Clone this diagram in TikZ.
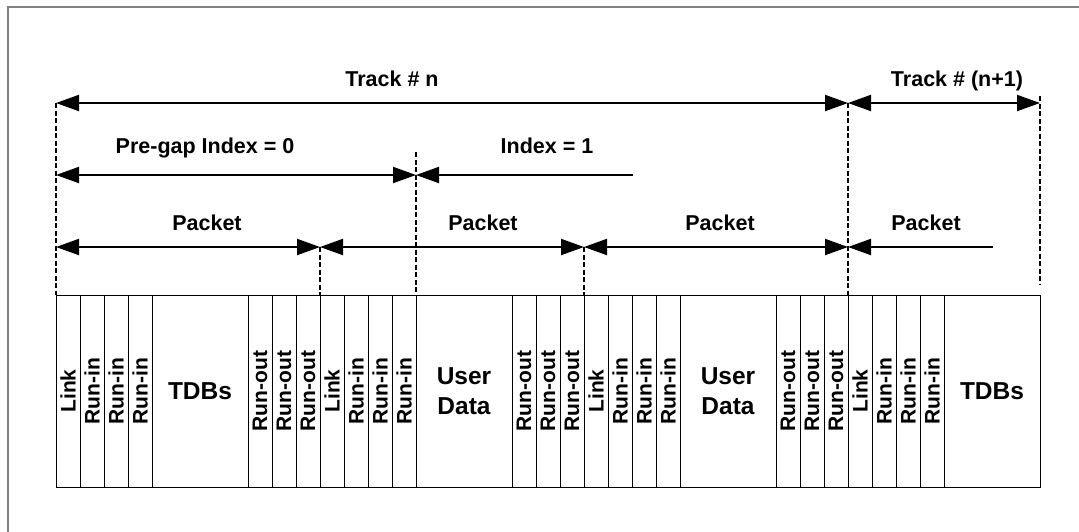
\documentclass[tikz,border=0pt]{standalone}
\usepackage{fontspec}
\setmainfont{Liberation Sans}
\usetikzlibrary{arrows.meta}
\begin{document}
\begin{tikzpicture}[x=1pt,y=-1pt,
  cell/.style={draw=black, line width=0.8pt, inner sep=0pt, outer sep=0pt},
  scell/.style={cell, rotate=90, minimum width=192pt, minimum height=24pt, font=\fontsize{21}{25}\selectfont\bfseries},
  bcell/.style={cell, minimum width=96pt, minimum height=192pt, align=center, font=\fontsize{24.5}{29.5}\selectfont\bfseries},
  lbl/.style={anchor=base, inner sep=0pt, font=\fontsize{21.5}{25}\selectfont\bfseries},
  dimline/.style={line width=2pt},
  guide/.style={line width=1.3pt, dash pattern=on 5pt off 2.5pt},
  frame/.style={draw=gray, line width=1.5pt},
  >={Triangle[length=23pt,width=16pt]}]
\useasboundingbox (0,0) rectangle (1079,531);
\clip (0,0) rectangle (1079,531);
\draw[frame] (8,7) rectangle (1100,560);

% cells
\node[scell] (c1) at (68,391) {Link};
\node[scell] (c2) at (92,391) {Run-in};
\node[scell] (c3) at (116,391) {Run-in};
\node[scell] (c4) at (140,391) {Run-in};
\node[bcell] (c5) at (200,391) {TDBs};
\node[scell] (c6) at (260,391) {Run-out};
\node[scell] (c7) at (284,391) {Run-out};
\node[scell] (c8) at (308,391) {Run-out};
\node[scell] (c9) at (332,391) {Link};
\node[scell] (c10) at (356,391) {Run-in};
\node[scell] (c11) at (380,391) {Run-in};
\node[scell] (c12) at (404,391) {Run-in};
\node[bcell] (c13) at (464,391) {User\\Data};
\node[scell] (c14) at (524,391) {Run-out};
\node[scell] (c15) at (548,391) {Run-out};
\node[scell] (c16) at (572,391) {Run-out};
\node[scell] (c17) at (596,391) {Link};
\node[scell] (c18) at (620,391) {Run-in};
\node[scell] (c19) at (644,391) {Run-in};
\node[scell] (c20) at (668,391) {Run-in};
\node[bcell] (c21) at (728,391) {User\\Data};
\node[scell] (c22) at (788,391) {Run-out};
\node[scell] (c23) at (812,391) {Run-out};
\node[scell] (c24) at (836,391) {Run-out};
\node[scell] (c25) at (860,391) {Link};
\node[scell] (c26) at (884,391) {Run-in};
\node[scell] (c27) at (908,391) {Run-in};
\node[scell] (c28) at (932,391) {Run-in};
\node[bcell] (c29) at (992,391) {TDBs};

% coordinates
\coordinate (T0) at (56,103);
\coordinate (T1) at (848,103);
\coordinate (T2) at (1040,103);
\coordinate (T2top) at (1040,96);
\coordinate (T2bot) at (1040,285);
\coordinate (I0) at (56,175);
\coordinate (I1) at (416,175);
\coordinate (I1top) at (416,152);
\coordinate (I2) at (633,175);
\coordinate (P0) at (56,247);
\coordinate (P1) at (320,247);
\coordinate (P2) at (584,247);
\coordinate (P3) at (848,247);
\coordinate (P4) at (993,247);
\coordinate (B0) at (56,295);
\coordinate (B1) at (320,295);
\coordinate (B2) at (416,295);
\coordinate (B3) at (584,295);
\coordinate (B4) at (848,295);

% guide lines
\draw[guide] (T0) -- (B0);
\draw[guide] (P1) -- (B1);
\draw[guide] (I1top) -- (B2);
\draw[guide] (P2) -- (B3);
\draw[guide] (T1) -- (B4);
\draw[guide] (T2top) -- (T2bot);

% dimension arrows
\draw[dimline,<->] (T0) -- (T1);
\draw[dimline,<->] (T1) -- (T2);
\draw[dimline,<->] (I0) -- (I1);
\draw[dimline,<-] (I1) -- (I2);
\draw[dimline,<->] (P0) -- (P1);
\draw[dimline,<->] (P1) -- (P2);
\draw[dimline,<->] (P2) -- (P3);
\draw[dimline,<-] (P3) -- (P4);

% labels
\node[lbl] (l1) at (392,86) {Track \# n};
\node[lbl] (l2) at (957,86) {Track \# (n+1)};
\node[lbl] (l3) at (205,153) {Pre-gap Index = 0};
\node[lbl] (l4) at (547,153) {Index = 1};
\node[lbl] (l5) at (207,230) {Packet};
\node[lbl] (l6) at (483,230) {Packet};
\node[lbl] (l7) at (720,230) {Packet};
\node[lbl] (l8) at (926,230) {Packet};
\end{tikzpicture}
\end{document}
